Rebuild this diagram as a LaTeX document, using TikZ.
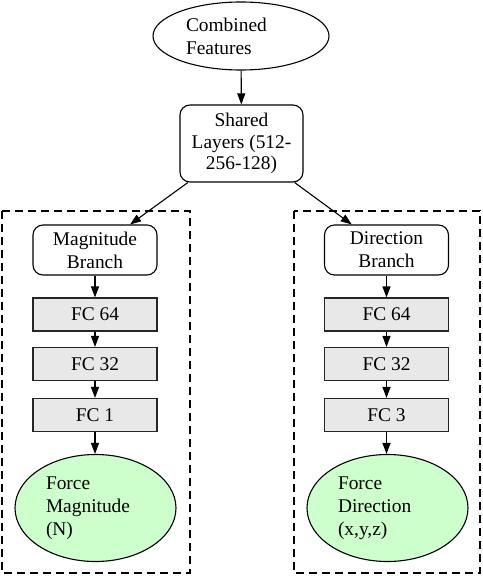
\documentclass[tikz,border=0pt]{standalone}
\usepackage{fontspec}
\setmainfont{Liberation Serif}
\usetikzlibrary{shapes.geometric,arrows.meta}
\begin{document}
\begin{tikzpicture}[x=1pt,y=-1pt,
  font=\fontsize{19.4}{23}\selectfont,
  line width=1.1pt,
  ell/.style={draw, ellipse, inner sep=0pt, align=left},
  rbox/.style={draw, rounded corners=10pt, inner sep=0pt, align=center, minimum width=124pt},
  fcbox/.style={draw=black!85, fill=black!9, inner sep=0pt, minimum width=124pt, minimum height=33pt},
  outbox/.style={draw, ellipse, inner sep=0pt, fill=green!20, text width=99pt, align=left, minimum width=161pt, minimum height=107pt},
  arr/.style={-{Triangle[length=11pt,width=8pt]}},
  grp/.style={dash pattern=on 8pt off 5pt}]
\useasboundingbox (0,0) rectangle (482,578);
\draw[grp] (2,211) rectangle (190,573);
\draw[grp] (294,211) rectangle (480,573);
\node[ell, text width=110pt, minimum width=176pt, minimum height=68pt] (comb) at (241,36) {Combined\\Features};
\node[rbox, minimum width=123pt, minimum height=77pt, font=\fontsize{19.4}{21.5}\selectfont] (shared) at (241.5,143.5) {Shared\\Layers (512-\\256-128)};
\node[rbox, minimum height=50pt] (mag) at (95,250) {Magnitude\\Branch};
\node[fcbox] (m64) at (95,314.5) {FC 64};
\node[fcbox] (m32) at (95,364) {FC 32};
\node[fcbox] (m1) at (95,415) {FC 1};
\node[outbox] (fmag) at (95.5,508) {Force\\Magnitude\\(N)};
\node[rbox, minimum height=50pt] (dir) at (386.5,250) {Direction\\Branch};
\node[fcbox] (d64) at (386.5,314.5) {FC 64};
\node[fcbox] (d32) at (386.5,364) {FC 32};
\node[fcbox] (d3) at (386.5,415) {FC 3};
\node[outbox] (fdir) at (387.5,508) {Force\\Direction\\(x,y,z)};
\draw[arr] (comb) -- (shared);
\draw[arr] (shared) -- (mag);
\draw[arr] (shared) -- (dir);
\draw[arr] (mag) -- (m64);
\draw[arr] (m64) -- (m32);
\draw[arr] (m32) -- (m1);
\draw[arr] (m1) -- (fmag.north -| m1);
\draw[arr] (dir) -- (d64);
\draw[arr] (d64) -- (d32);
\draw[arr] (d32) -- (d3);
\draw[arr] (d3) -- (fdir.north -| d3);
\end{tikzpicture}
\end{document}
